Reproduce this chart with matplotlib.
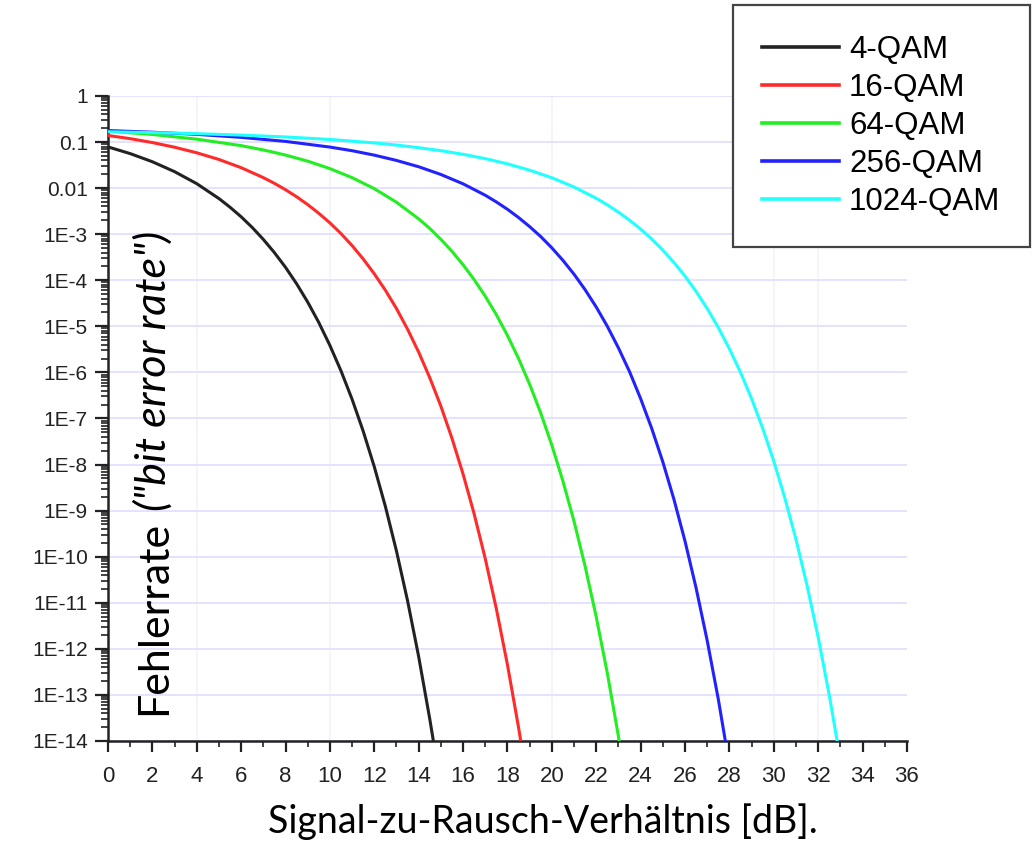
import matplotlib.pyplot as plt
from matplotlib.ticker import FixedLocator, LogLocator, NullFormatter, MultipleLocator

# signal-to-noise ratio (dB) and bit error rate
snr_4qam = [0, 1, 2, 3, 4, 5, 5.5, 6, 6.5, 7, 7.5, 8, 8.5, 9, 9.5, 10, 10.5, 11, 11.5,
            12, 12.5, 13, 13.5, 14, 14.5, 14.7]
ber_4qam = [7.85e-2, 5.62e-2, 3.74e-2, 2.28e-2, 1.25e-2, 5.94e-3, 3.85e-3, 2.39e-3,
            1.40e-3, 7.71e-4, 3.98e-4, 1.91e-4, 8.39e-5, 3.36e-5, 1.21e-5, 3.85e-6,
            1.08e-6, 2.61e-7, 5.30e-8, 8.97e-9, 1.23e-9, 1.32e-10, 1.10e-11, 6.75e-13,
            2.99e-14, 7.7e-15]

snr_16qam = [0, 1, 2, 3, 4, 5, 6, 7, 7.5, 8, 8.5, 9, 9.5, 10, 10.5, 11, 11.5, 12, 12.5,
             13, 13.5, 14, 14.5, 15, 15.5, 16, 16.5, 17, 17.5, 18, 18.5, 18.8]
ber_16qam = [0.139, 0.1186, 9.75e-2, 7.73e-2, 5.85e-2, 4.19e-2, 2.78e-2, 1.69e-2,
             1.27e-2, 9.23e-3, 6.50e-3, 4.39e-3, 2.84e-3, 1.76e-3, 1.03e-3, 5.65e-4,
             2.90e-4, 1.38e-4, 6.07e-5, 2.43e-5, 8.63e-6, 2.75e-6, 7.66e-7, 1.85e-7,
             3.71e-8, 6.21e-9, 8.47e-10, 9.04e-11, 7.38e-12, 4.50e-13, 1.96e-14, 2.5e-15]

snr_64qam = [0, 2, 4, 6, 7, 8, 9, 10, 11, 12, 13, 14, 14.5, 15, 15.5, 16, 16.5, 17, 17.5,
             18, 18.5, 19, 19.5, 20, 20.5, 21, 21.5, 22, 22.5, 23, 23.2]
ber_64qam = [0.1726, 0.1462, 0.1156, 0.0836, 0.0675, 0.0522, 0.0385, 0.0265, 0.01687,
             9.73e-3, 4.94e-3, 2.15e-3, 1.33e-3, 7.73e-4, 4.24e-4, 2.17e-4, 1.03e-4,
             4.50e-5, 1.79e-5, 6.32e-6, 2.00e-6, 5.51e-7, 1.31e-7, 2.62e-8, 4.35e-9,
             5.85e-10, 6.15e-11, 4.93e-12, 2.96e-13, 1.26e-14, 3.3e-15]

snr_256qam = [0, 2, 4, 6, 8, 10, 11, 12, 13, 14, 15, 16, 17, 17.5, 18, 18.5, 19, 19.5,
              20, 20.5, 21, 21.5, 22, 22.5, 23, 23.5, 24, 24.5, 25, 25.5, 26, 26.5, 27,
              27.5, 28]
ber_256qam = [0.1778, 0.1637, 0.1469, 0.1265, 0.1033, 0.0778, 0.0649, 0.0520, 0.0399,
              0.0291, 0.01977, 0.01239, 7.00e-3, 5.01e-3, 3.47e-3, 2.30e-3, 1.46e-3,
              8.87e-4, 5.05e-4, 2.70e-4, 1.35e-4, 6.22e-5, 2.62e-5, 1.00e-5, 3.40e-6,
              1.04e-6, 2.69e-7, 6.07e-8, 1.14e-8, 1.76e-9, 2.17e-10, 2.08e-11, 1.50e-12,
              8.04e-14, 3.0e-15]

snr_1024qam = [0, 2, 4, 6, 8, 10, 12, 13, 14, 15, 16, 17, 18, 19, 20, 21, 22, 22.5, 23,
               23.5, 24, 24.5, 25, 25.5, 26, 26.5, 27, 27.5, 28, 28.5, 29, 29.5, 30, 30.5,
               31, 31.5, 32, 32.5, 33]
ber_1024qam = [0.1671, 0.1603, 0.1521, 0.1416, 0.1291, 0.1138, 0.0959, 0.0859, 0.0755,
               0.0650, 0.0542, 0.0437, 0.0336, 0.0245, 0.0168, 0.01057, 6.01e-3, 4.33e-3,
               3.01e-3, 2.01e-3, 1.29e-3, 7.83e-4, 4.50e-4, 2.43e-4, 1.23e-4, 5.70e-5,
               2.43e-5, 9.40e-6, 3.25e-6, 1.00e-6, 2.69e-7, 6.12e-8, 1.18e-8, 1.86e-9,
               2.37e-10, 2.36e-11, 1.78e-12, 9.86e-14, 3.9e-15]

labels = ['4-QAM', '16-QAM', '64-QAM', '256-QAM', '1024-QAM']
colors = ['#222222', '#ff2b2b', '#22ee22', '#2222ff', '#22ffff']

ytick_vals = [1, 0.1, 0.01, 1e-3, 1e-4, 1e-5, 1e-6, 1e-7, 1e-8, 1e-9, 1e-10,
              1e-11, 1e-12, 1e-13, 1e-14]
ytick_labels = ['1', '0.1', '0.01', '1E-3', '1E-4', '1E-5', '1E-6', '1E-7', '1E-8',
                '1E-9', '1E-10', '1E-11', '1E-12', '1E-13', '1E-14']
xticks = list(range(0, 37, 2))

fig = plt.figure(figsize=(10.35, 8.42), dpi=100)
ax = fig.add_axes([0.1043, 0.1200, 0.772, 0.766])

series = [(snr_4qam, ber_4qam), (snr_16qam, ber_16qam), (snr_64qam, ber_64qam),
          (snr_256qam, ber_256qam), (snr_1024qam, ber_1024qam)]
for (x, y), lab, c in zip(series, labels, colors):
    ax.plot(x, y, color=c, lw=2.2, label=lab, zorder=3, solid_joinstyle='round')

ax.set_yscale('log')
ax.set_ylim(1e-14, 1)
ax.set_xlim(0, 36)

# faint grid
for v in [4, 10, 20, 30, 32]:
    ax.axvline(v, color='#f2f2f8', lw=1.2, zorder=1)
ax.yaxis.set_major_locator(FixedLocator(ytick_vals))
ax.set_yticklabels(ytick_labels)
ax.yaxis.set_minor_locator(LogLocator(base=10, subs=range(2, 10), numticks=100))
ax.yaxis.set_minor_formatter(NullFormatter())
ax.grid(axis='y', which='major', color='#e3e3ff', lw=1.4, zorder=1)

ax.set_xticks(xticks)
ax.set_xticklabels([str(t) for t in xticks])
ax.xaxis.set_minor_locator(MultipleLocator(1))

for s in ['top', 'right']:
    ax.spines[s].set_visible(False)
for s in ['left', 'bottom']:
    ax.spines[s].set_linewidth(1.8)
    ax.spines[s].set_color('#222222')

ax.tick_params(axis='y', which='major', length=9.5, width=1.6, pad=5, labelsize=15,
               colors='#222222')
ax.tick_params(axis='y', which='minor', length=5, width=1.2, colors='#222222')
ax.tick_params(axis='x', which='major', length=8, width=1.6, pad=10, labelsize=16,
               colors='#222222')
ax.tick_params(axis='x', which='minor', length=4.5, width=1.2, colors='#222222')
for lbl in ax.get_xticklabels() + ax.get_yticklabels():
    lbl.set_family('Liberation Sans')

leg = fig.legend(loc='upper left', bbox_to_anchor=(0.708, 0.994), borderaxespad=0,
                 prop={'family': 'Liberation Sans', 'size': 22.5}, fancybox=False,
                 frameon=True, edgecolor='#444444', framealpha=1, borderpad=0.95,
                 handlelength=2.45, handletextpad=0.32, labelspacing=0.26)
leg.get_frame().set_linewidth(1.6)
for line in leg.get_lines():
    line.set_linewidth(2.6)

# axis titles
fig.text(543 / 1035, 0.0107, 'Signal-zu-Rausch-Verhältnis [dB].', family='Lato',
         fontsize=27, ha='center', va='baseline', color='black')

t1 = fig.text(0.1604, 0.1508, 'Fehlerrate', family='Lato', fontsize=31, rotation=90,
              rotation_mode='anchor', ha='left', va='baseline', color='black')
fig.canvas.draw()
bb = t1.get_window_extent()
fig.text(0.1604, (bb.y1 + 10) / fig.bbox.height, '("bit error rate")', family='Lato',
         style='italic', fontsize=31, rotation=90, rotation_mode='anchor',
         ha='left', va='baseline', color='black')

fig.savefig('out.png', dpi=100)
